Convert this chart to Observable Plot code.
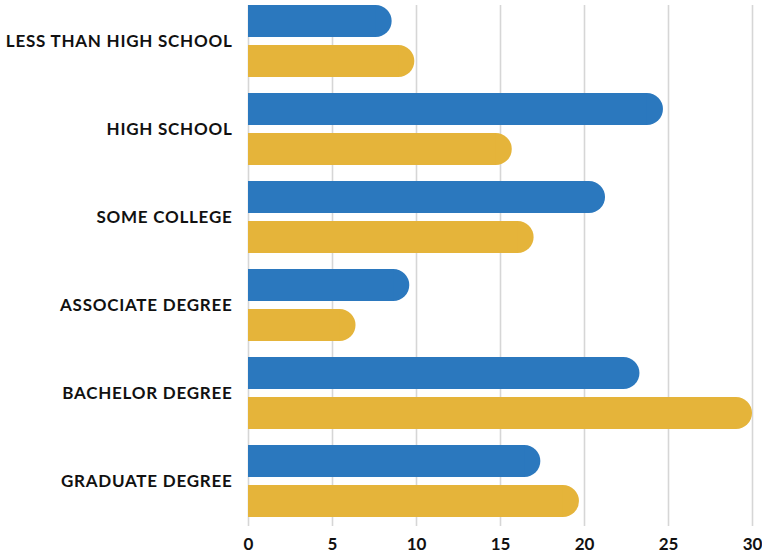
<!DOCTYPE html>
<html>
<head>
<meta charset="utf-8">
<script src="https://cdn.jsdelivr.net/npm/d3@7"></script>
<script src="https://cdn.jsdelivr.net/npm/@observablehq/plot@0.6"></script>
<style>
  html, body { margin: 0; padding: 0; background: #fff; }
  #chart svg { display: block; }
  #chart g[aria-label="y-axis tick label"] { letter-spacing: 0.75px; }
</style>
</head>
<body>
<div id="chart"></div>
<script>
const categories = [
  "LESS THAN HIGH SCHOOL",
  "HIGH SCHOOL",
  "SOME COLLEGE",
  "ASSOCIATE DEGREE",
  "BACHELOR DEGREE",
  "GRADUATE DEGREE"
];
const seriesNames = ["Series A", "Series B"];
const seriesAValues = [8.55, 24.7, 21.25, 9.6, 23.3, 17.4];
const seriesBValues = [9.9, 15.7, 17.0, 6.4, 30.0, 19.7];
const xTicks = [0, 5, 10, 15, 20, 25, 30];
const colors = ["#2B78BE", "#E5B43A"];

const rowsA = categories.map((c, i) => ({category: c, series: seriesNames[0], value: seriesAValues[i]}));
const rowsB = categories.map((c, i) => ({category: c, series: seriesNames[1], value: seriesBValues[i]}));

const font = "Lato, 'Open Sans', sans-serif";

const chart = Plot.plot({
  width: 762,
  height: 556,
  marginLeft: 248,
  marginRight: 10,
  marginTop: 5,
  marginBottom: 39,
  style: {fontFamily: font, fontWeight: "bold", background: "#fff"},
  x: {domain: [0, 30], ticks: xTicks},
  y: {domain: categories, paddingInner: 16 / 88, paddingOuter: 0},
  marks: [
    Plot.gridX(xTicks, {stroke: "#d6d6d6", strokeOpacity: 1, strokeWidth: 1.6}),
    // rounded bars
    Plot.barX(rowsA, {x: "value", y: "category", fill: colors[0], insetBottom: 40, rx: 16}),
    Plot.barX(rowsA, {x: "value", y: "category", fill: colors[0], insetBottom: 40, insetRight: 16}),
    Plot.barX(rowsB, {x: "value", y: "category", fill: colors[1], insetTop: 40, rx: 16}),
    Plot.barX(rowsB, {x: "value", y: "category", fill: colors[1], insetTop: 40, insetRight: 16}),
    Plot.axisX(xTicks, {tickSize: 9, tickPadding: 11, stroke: "#d6d6d6", strokeWidth: 1.6, fontSize: 17, fill: "#111", label: null}),
    Plot.axisY({tickSize: 0, tickPadding: 16, fontSize: 17, fill: "#111", label: null})
  ]
});
document.getElementById("chart").appendChild(chart);
</script>
</body>
</html>
